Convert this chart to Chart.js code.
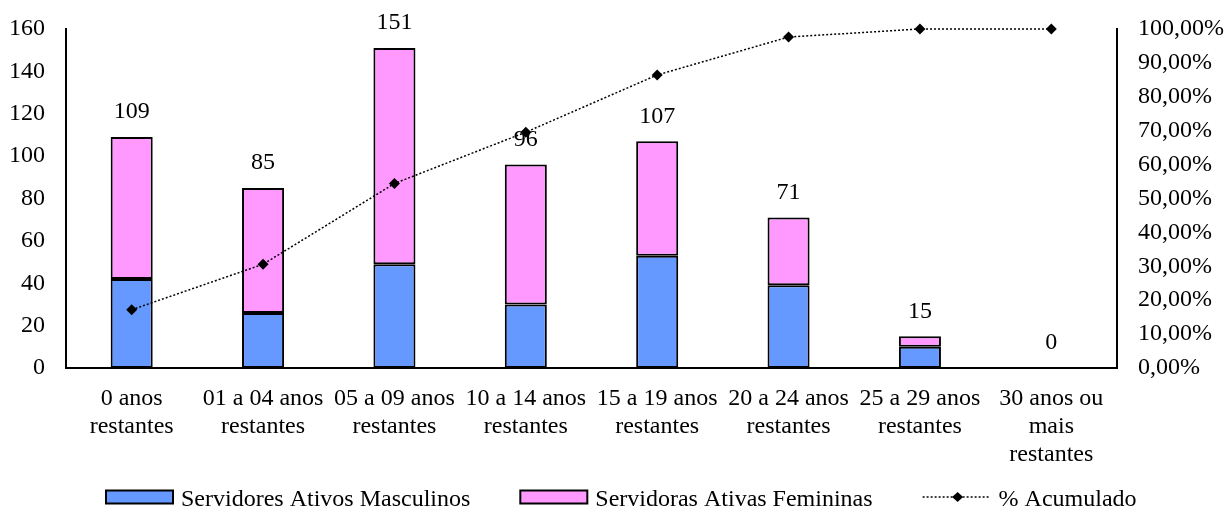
<!DOCTYPE html>
<html>
<head>
<meta charset="utf-8">
<script src="https://cdn.jsdelivr.net/npm/chart.js@4.4.1/dist/chart.umd.min.js"></script>
<style>
html,body{margin:0;padding:0;background:#fff;}
#wrap{width:1225px;height:513px;position:relative;}
</style>
</head>
<body>
<div id="wrap"><canvas id="c" width="1225" height="513"></canvas></div>
<script>
const categories = [
  ["0 anos", "restantes"],
  ["01 a 04 anos", "restantes"],
  ["05 a 09 anos", "restantes"],
  ["10 a 14 anos", "restantes"],
  ["15 a 19 anos", "restantes"],
  ["20 a 24 anos", "restantes"],
  ["25 a 29 anos", "restantes"],
  ["30 anos ou", "mais", "restantes"]
];
const masculinos = [42, 26, 49, 30, 53, 39, 10, 0];
const femininas = [67, 59, 102, 66, 54, 32, 5, 0];
const totais = [109, 85, 151, 96, 107, 71, 15, 0];
const acumulado = [17.19, 30.60, 54.42, 69.56, 86.44, 97.63, 100.00, 100.00];
const leftTicks = [0, 20, 40, 60, 80, 100, 120, 140, 160];
const rightTicks = [0, 10, 20, 30, 40, 50, 60, 70, 80, 90, 100];
const seriesNames = ["Servidores Ativos Masculinos", "Servidoras Ativas Femininas", "% Acumulado"];

const FONT = "'Liberation Serif', 'Times New Roman', serif";
const FS = 24;
const BLUE = '#6699FF';
const PINK = '#FF99FF';

const totalLabels = {
  id: 'totalLabels',
  beforeDatasetsDraw(chart) {
    const meta = chart.getDatasetMeta(2);
    const ctx = chart.ctx;
    ctx.save();
    ctx.font = FS + 'px ' + FONT;
    ctx.fillStyle = '#000';
    ctx.textAlign = 'center';
    ctx.textBaseline = 'middle';
    meta.data.forEach((el, i) => {
      ctx.fillText(String(totais[i]), el.x, el.y - 25);
    });
    ctx.restore();
  }
};

const customLegend = {
  id: 'customLegend',
  afterDraw(chart) {
    const ctx = chart.ctx;
    ctx.save();
    ctx.font = FS + 'px ' + FONT;
    const y = 497;
    const boxW = 67, boxH = 13, gap = 50, tg = 8;
    const w = seriesNames.map(n => ctx.measureText(n).width);
    let x = 106;
    const fills = [BLUE, PINK];
    ctx.textBaseline = 'middle';
    ctx.textAlign = 'left';
    for (let i = 0; i < 2; i++) {
      ctx.fillStyle = fills[i];
      ctx.fillRect(x, y - boxH / 2, boxW, boxH);
      ctx.strokeStyle = '#000';
      ctx.lineWidth = 2;
      ctx.strokeRect(x, y - boxH / 2, boxW, boxH);
      ctx.fillStyle = '#000';
      ctx.fillText(seriesNames[i], x + boxW + tg, y + 3);
      x += boxW + tg + w[i] + gap;
    }
    ctx.strokeStyle = '#000';
    ctx.lineWidth = 1.5;
    ctx.setLineDash([2, 2]);
    ctx.beginPath();
    ctx.moveTo(x, y);
    ctx.lineTo(x + 68, y);
    ctx.stroke();
    ctx.setLineDash([]);
    const cx = x + 35;
    ctx.fillStyle = '#000';
    ctx.beginPath();
    ctx.moveTo(cx, y - 5);
    ctx.lineTo(cx + 5.5, y);
    ctx.lineTo(cx, y + 5);
    ctx.lineTo(cx - 5.5, y);
    ctx.closePath();
    ctx.fill();
    ctx.fillText(seriesNames[2], x + 68 + 8, y + 3);
    ctx.restore();
  }
};

new Chart(document.getElementById('c'), {
  data: {
    labels: categories,
    datasets: [
      {
        type: 'line',
        label: seriesNames[2],
        data: acumulado,
        yAxisID: 'y2',
        borderColor: '#000',
        borderWidth: 1.5,
        borderDash: [2, 2],
        pointStyle: 'rectRot',
        pointRadius: 5.5,
        pointBackgroundColor: '#000',
        pointBorderColor: '#000',
        pointBorderWidth: 0,
        fill: false,
        tension: 0,
        clip: false,
        order: 0
      },
      {
        type: 'bar',
        label: seriesNames[0],
        data: masculinos,
        yAxisID: 'y',
        backgroundColor: BLUE,
        borderColor: '#000',
        borderWidth: 2,
        borderSkipped: false,
        barPercentage: 0.32,
        categoryPercentage: 1,
        stack: 's',
        order: 1
      },
      {
        type: 'bar',
        label: seriesNames[1],
        data: femininas,
        yAxisID: 'y',
        backgroundColor: PINK,
        borderColor: '#000',
        borderWidth: 2,
        borderSkipped: false,
        barPercentage: 0.32,
        categoryPercentage: 1,
        stack: 's',
        order: 1
      }
    ]
  },
  options: {
    responsive: false,
    animation: false,
    layout: { padding: { top: 29, bottom: 45, left: 0, right: 0 } },
    plugins: {
      legend: { display: false },
      tooltip: { enabled: false }
    },
    scales: {
      x: {
        stacked: true,
        grid: { display: false, drawTicks: false },
        border: { display: true, color: '#000', width: 2 },
        ticks: {
          color: '#000',
          font: { family: FONT, size: FS, lineHeight: 1.17 },
          padding: 17,
          maxRotation: 0,
          autoSkip: false
        },
        afterFit(s) { s.height = 100; }
      },
      y: {
        stacked: true,
        position: 'left',
        min: 0,
        max: 160,
        grid: { display: false, drawTicks: false },
        border: { display: true, color: '#000', width: 2 },
        afterBuildTicks(s) { s.ticks = leftTicks.map(v => ({ value: v })); },
        ticks: {
          color: '#000',
          font: { family: FONT, size: FS },
          padding: 21
        },
        afterFit(s) { s.width = 66; s.paddingTop = 0; s.paddingBottom = 0; }
      },
      y2: {
        position: 'right',
        min: 0,
        max: 100,
        grid: { display: false, drawTicks: false },
        border: { display: true, color: '#000', width: 2 },
        afterBuildTicks(s) { s.ticks = rightTicks.map(v => ({ value: v })); },
        ticks: {
          color: '#000',
          font: { family: FONT, size: FS },
          padding: 21,
          callback: v => v.toFixed(2).replace('.', ',') + '%'
        },
        afterFit(s) { s.width = 108; s.paddingTop = 0; s.paddingBottom = 0; }
      }
    }
  },
  plugins: [totalLabels, customLegend]
});
</script>
</body>
</html>
